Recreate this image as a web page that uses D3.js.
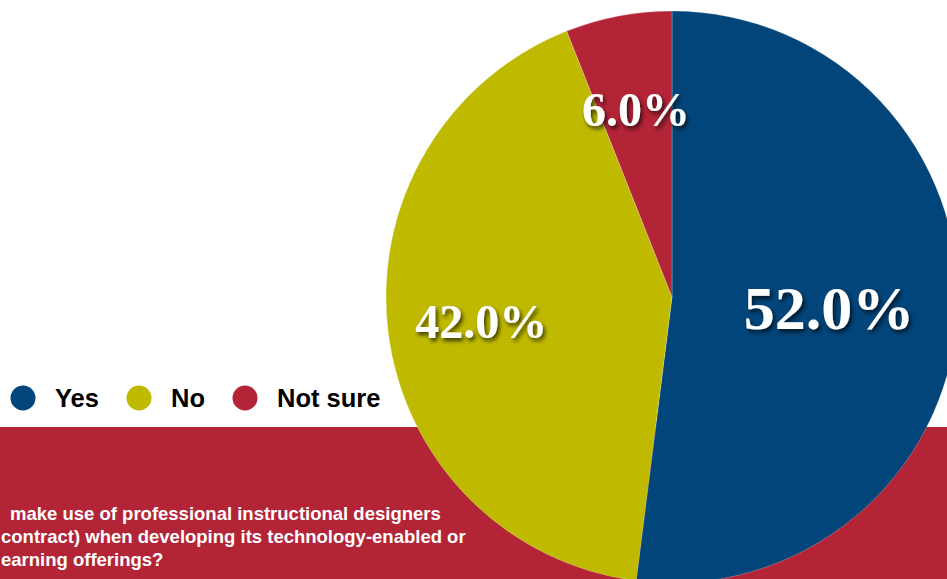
<!DOCTYPE html>
<html><head><meta charset="utf-8">
<script src="https://cdn.jsdelivr.net/npm/d3@7"></script>
<style>html,body{margin:0;padding:0;background:#fff;overflow:hidden}</style>
</head><body>
<svg id="c" width="947" height="579"></svg>
<script>
const categories = ["Yes", "No", "Not sure"];
const values = [52.0, 42.0, 6.0];
const colors = ["#02457a", "#bfba00", "#b42437"];
const questionLines = [
  "make use of professional instructional designers",
  "contract) when developing its technology-enabled or",
  "earning offerings?"
];

const svg = d3.select("#c");
const W = 947, H = 579;
const cx = 672, cy = 297, R = 286;

const defs = svg.append("defs");
const f = defs.append("filter").attr("id","sh").attr("x","-20%").attr("y","-20%").attr("width","140%").attr("height","160%");
f.append("feDropShadow").attr("dx",2).attr("dy",3).attr("stdDeviation",2).attr("flood-color","#000").attr("flood-opacity",0.7);

// red band
svg.append("rect").attr("x",0).attr("y",427).attr("width",W).attr("height",H-427).attr("fill","#b42437");

// question text
const qt = svg.append("text").attr("fill","#fff").attr("font-family","'Liberation Sans', Arial, sans-serif")
  .attr("font-weight","bold").attr("font-size",18.5);
const qx = [10, 1, 1];
questionLines.forEach((l,i)=>{
  qt.append("tspan").attr("x", qx[i]).attr("y", 520 + i*23).text(l);
});

// pie
const pie = d3.pie().sort(null).value(d=>d)(values);
const arc = d3.arc().innerRadius(0).outerRadius(R);
const g = svg.append("g").attr("transform",`translate(${cx},${cy})`);
g.selectAll("path").data(pie).join("path")
  .attr("d",arc).attr("fill",(d,i)=>colors[i])
  .attr("stroke","#fff").attr("stroke-width",0.4).attr("stroke-opacity",0.6);

const maxV = d3.max(values);
g.selectAll("text.lbl").data(pie).join("text").attr("class","lbl")
  .each(function(d){
    const big = d.value === maxV;
    const r = big ? R*0.55 : R*0.672;
    const a = (d.startAngle + d.endAngle)/2;
    d3.select(this)
      .attr("x", r*Math.sin(a))
      .attr("y", -r*Math.cos(a))
      .attr("dy", "0.36em")
      .attr("font-size", big ? 62 : 48);
  })
  .attr("text-anchor","middle")
  .attr("font-family","'Liberation Serif','Times New Roman',serif")
  .attr("font-weight","bold")
  .attr("fill","#fff")
  .attr("filter","url(#sh)")
  .text(d=>d.value.toFixed(1)+"%");

// legend
const lx = [23, 139, 245];
const leg = svg.append("g");
categories.forEach((c,i)=>{
  leg.append("circle").attr("cx",lx[i]).attr("cy",398).attr("r",12.5).attr("fill",colors[i]);
  leg.append("text").attr("x",lx[i]+32).attr("y",407)
    .attr("font-family","'Liberation Sans', Arial, sans-serif").attr("font-weight","bold")
    .attr("font-size",25.5).attr("fill","#000").text(c);
});
</script>
</body></html>
